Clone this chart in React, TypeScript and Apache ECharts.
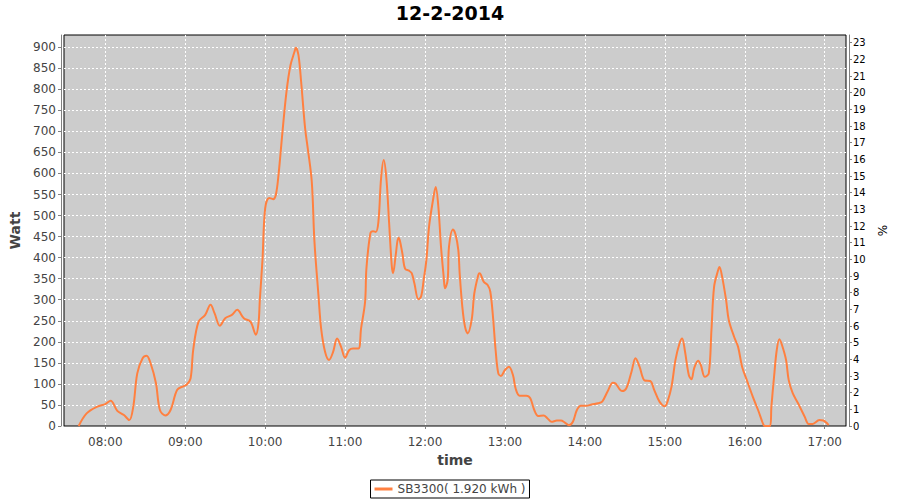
import React, { useEffect, useRef } from "react";
import * as echarts from "echarts";

const chartTitle = "12-2-2014";
const seriesName = "SB3300( 1.920 kWh )";

const times: string[] = [
  "07:40", "07:46", "07:54", "08:00", "08:04", "08:09", "08:14", "08:18", "08:21", "08:24",
  "08:28", "08:31", "08:34", "08:38", "08:41", "08:45", "08:49", "08:54", "08:59", "09:01",
  "09:04", "09:06", "09:10", "09:15", "09:19", "09:22", "09:26", "09:30", "09:35", "09:39",
  "09:44", "09:49", "09:53", "09:55", "09:56", "09:58", "10:00", "10:03", "10:06", "10:08",
  "10:10", "10:13", "10:16", "10:19", "10:22", "10:23", "10:25", "10:27", "10:30", "10:32",
  "10:35", "10:37", "10:40", "10:42", "10:45", "10:48", "10:51", "10:54", "10:57", "11:00",
  "11:03", "11:06", "11:10", "11:12", "11:15", "11:16", "11:19", "11:21", "11:23", "11:25",
  "11:27", "11:29", "11:31", "11:33", "11:35", "11:36", "11:38", "11:40", "11:41", "11:43",
  "11:45", "11:48", "11:50", "11:52", "11:55", "11:57", "11:59", "12:01", "12:03", "12:06",
  "12:08", "12:10", "12:12", "12:14", "12:15", "12:17", "12:18", "12:21", "12:23", "12:25",
  "12:26", "12:28", "12:30", "12:32", "12:35", "12:37", "12:40", "12:41", "12:44", "12:47",
  "12:49", "12:51", "12:53", "12:55", "12:57", "13:00", "13:03", "13:06", "13:08", "13:11",
  "13:16", "13:19", "13:22", "13:25", "13:29", "13:32", "13:35", "13:39", "13:42", "13:45",
  "13:48", "13:51", "13:54", "13:57", "14:01", "14:05", "14:10", "14:13", "14:17", "14:21",
  "14:23", "14:28", "14:31", "14:35", "14:38", "14:41", "14:45", "14:49", "14:52", "14:56",
  "15:00", "15:02", "15:05", "15:08", "15:11", "15:13", "15:15", "15:18", "15:20", "15:22",
  "15:25", "15:27", "15:30", "15:33", "15:35", "15:37", "15:40", "15:41", "15:43", "15:46",
  "15:48", "15:52", "15:55", "15:58", "16:02", "16:06", "16:10", "16:14", "16:15", "16:19",
  "16:20", "16:22", "16:24", "16:26", "16:28", "16:31", "16:33", "16:36", "16:40", "16:45",
  "16:48", "16:51", "16:56", "16:59", "17:03",
];

const watts: number[] = [
  0, 30, 46, 52, 60, 36, 26, 14, 46, 125,
  161, 167, 149, 102, 38, 25, 38, 86, 95, 98,
  113, 181, 248, 264, 288, 268, 238, 256, 264, 276,
  256, 248, 217, 244, 300, 395, 517, 542, 539, 549,
  596, 699, 794, 857, 889, 899, 881, 818, 707, 659,
  580, 438, 311, 232, 176, 157, 176, 208, 188, 162,
  180, 184, 184, 232, 295, 374, 458, 463, 461, 485,
  588, 632, 588, 485, 382, 363, 406, 447, 442, 410,
  374, 369, 363, 339, 301, 307, 347, 394, 473, 537,
  568, 521, 426, 355, 327, 347, 426, 467, 454, 418,
  363, 283, 236, 220, 252, 315, 359, 363, 343, 335,
  319, 260, 180, 125, 119, 133, 141, 121, 89, 72,
  72, 66, 38, 24, 25, 18, 10, 13, 13, 8,
  2, 10, 38, 48, 48, 51, 54, 58, 82, 103,
  101, 83, 89, 129, 161, 141, 108, 107, 86, 58,
  47, 58, 93, 157, 196, 208, 180, 121, 111, 137,
  155, 145, 117, 125, 228, 331, 370, 378, 355, 299,
  252, 212, 188, 141, 105, 70, 38, 3, 0, 0,
  46, 117, 180, 206, 192, 157, 109, 78, 54, 22,
  5, 5, 14, 13, 2,
];

const xMin = "07:29";
const xMax = "17:16";
const wattMax = 929;
const pctMax = 23.46;

function toDate(hm: string): number {
  const [h, m] = hm.split(":").map(Number);
  return new Date(2014, 1, 12, h, m, 0).getTime();
}

function pad(n: number) {
  return n < 10 ? "0" + n : "" + n;
}

const FONT = "DejaVu Sans";

const gridSplit = {
  show: true,
  showMinLine: false,
  showMaxLine: false,
  lineStyle: { color: "#ffffff", type: [2, 2], width: 1 },
};

export default function App() {
  const ref = useRef<HTMLDivElement>(null);
  useEffect(() => {
    if (!ref.current) return;
    const chart = echarts.init(ref.current, undefined, { renderer: "svg" });
    const data = times.map((t, i) => [toDate(t), watts[i]]);
    chart.setOption({
      animation: false,
      backgroundColor: "#ffffff",
      title: {
        text: chartTitle,
        left: "center",
        top: 3,
        padding: 0,
        textStyle: { fontFamily: FONT, fontSize: 19, fontWeight: "bold", color: "#000" },
      },
      legend: {
        bottom: 2,
        left: "center",
        data: [seriesName],
        borderColor: "#000",
        borderWidth: 1,
        padding: [3, 4, 3, 4],
        itemWidth: 18,
        itemHeight: 3,
        itemGap: 4,
        icon: "rect",
        textStyle: { fontFamily: FONT, fontSize: 12, color: "#444" },
      },
      grid: {
        left: 64,
        right: 54,
        top: 35,
        bottom: 74,
        show: true,
        backgroundColor: "#cccccc",
        borderColor: "#000",
        borderWidth: 1,
      },
      xAxis: {
        type: "time",
        min: toDate(xMin),
        max: toDate(xMax),
        minInterval: 3600000,
        maxInterval: 3600000,
        offset: 4,
        name: "time",
        nameLocation: "middle",
        nameGap: 22,
        nameTextStyle: { fontFamily: FONT, fontSize: 14, fontWeight: "bold", color: "#444" },
        axisLine: { show: true, lineStyle: { color: "#808080", width: 1 } },
        axisTick: { show: true, length: 3, lineStyle: { color: "#808080" } },
        axisLabel: {
          fontFamily: FONT,
          fontSize: 12,
          color: "#444",
          margin: 6,
          showMinLabel: false,
          showMaxLabel: false,
          formatter: (v: number) => {
            const d = new Date(v);
            return pad(d.getHours()) + ":" + pad(d.getMinutes());
          },
        },
        splitLine: gridSplit,
      },
      yAxis: [
        {
          type: "value",
          min: 0,
          max: wattMax,
          interval: 50,
          offset: 3,
          name: "Watt",
          nameLocation: "middle",
          nameGap: 34,
          nameTextStyle: { fontFamily: FONT, fontSize: 14, fontWeight: "bold", color: "#444" },
          axisLine: { show: true, lineStyle: { color: "#808080" } },
          axisTick: { show: true, length: 3, lineStyle: { color: "#808080" } },
          axisLabel: {
            fontFamily: FONT,
            fontSize: 12,
            color: "#444",
            margin: 5,
            showMaxLabel: false,
          },
          splitLine: gridSplit,
        },
        {
          type: "value",
          min: 0,
          max: pctMax,
          interval: 1,
          offset: 3,
          position: "right",
          name: "%",
          nameLocation: "middle",
          nameGap: 24,
          nameTextStyle: { fontFamily: FONT, fontSize: 12, color: "#000" },
          axisLine: { show: true, lineStyle: { color: "#808080" } },
          axisTick: { show: true, length: 3, lineStyle: { color: "#808080" } },
          axisLabel: {
            fontFamily: FONT,
            fontSize: 10,
            color: "#000",
            margin: 4,
            showMaxLabel: false,
          },
          splitLine: { show: false },
        },
      ],
      series: [
        {
          name: seriesName,
          type: "line",
          yAxisIndex: 0,
          data,
          smooth: 0.35,
          showSymbol: false,
          symbol: "none",
          lineStyle: { color: "#ff8040", width: 2 },
          itemStyle: { color: "#ff8040" },
        },
        {
          name: "pct",
          type: "line",
          yAxisIndex: 1,
          data: [],
        },
      ],
    });
    return () => chart.dispose();
  }, []);
  return (
    <div
      ref={ref}
      style={{ position: "fixed", left: 0, top: 0, width: 900, height: 500 }}
    />
  );
}
